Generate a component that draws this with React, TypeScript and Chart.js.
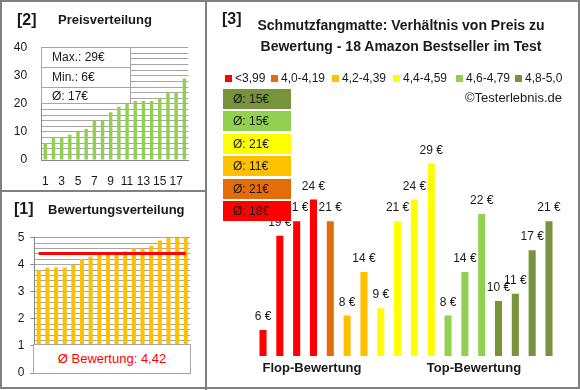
import React, { useEffect, useRef } from 'react';
import { Chart, registerables } from 'chart.js';

Chart.register(...registerables);

const FONT = '"Liberation Sans", Arial, sans-serif';
Chart.defaults.font.family = FONT;

// ---------- Panel [3]: price per product, grouped by rating class ----------
const productPrices = [6, 19, 21, 24, 21, 8, 14, 9, 21, 24, 29, 8, 14, 22, 10, 11, 17, 21];
const productRatingClass = [0, 0, 0, 0, 1, 2, 2, 3, 3, 3, 3, 4, 4, 4, 5, 5, 5, 5];
const ratingClassLabels = ['<3,99', '4,0-4,19', '4,2-4,39', '4,4-4,59', '4,6-4,79', '4,8-5,0'];
const ratingClassColors = ['#FF0000', '#E46C0A', '#FFC000', '#FFFF00', '#92D050', '#77933C'];
const ratingClassAverages = [18, 21, 11, 21, 15, 15];
const chartTitleLines = ['Schmutzfangmatte: Verhältnis von Preis zu', 'Bewertung - 18 Amazon Bestseller im Test'];
const axisGroupLabels = ['Flop-Bewertung', 'Top-Bewertung'];
const copyrightText = '©Testerlebnis.de';

// ---------- Panel [2]: price distribution ----------
const priceRankLabels = ['1', '2', '3', '4', '5', '6', '7', '8', '9', '10', '11', '12', '13', '14', '15', '16', '17', '18'];
const pricesSorted = [6, 8, 8, 9, 10, 11, 14, 14, 17, 19, 20.5, 21, 21, 21, 22, 24, 24, 29];
const priceStats = ['Max.: 29€', 'Min.: 6€', 'Ø: 17€'];

// ---------- Panel [1]: rating distribution ----------
const ratingsSorted = [3.8, 3.9, 3.9, 3.9, 4.0, 4.2, 4.3, 4.4, 4.4, 4.4, 4.5, 4.6, 4.6, 4.7, 4.9, 5.0, 5.0, 5.0];
const averageRating = 4.42;
const averageRatingText = 'Ø Bewertung: 4,42';

const W = 580;
const H = 390;
const GRID = '#A6A6A6';
const AXIS = '#868686';
const TEXT = '#1A1A1A';

const valueLabelPlugin = {
  id: 'valueLabels',
  afterDatasetsDraw(chart: any) {
    const ctx = chart.ctx;
    const meta = chart.getDatasetMeta(0);
    const data = chart.data.datasets[0].data;
    ctx.save();
    ctx.font = `12px ${FONT}`;
    ctx.fillStyle = TEXT;
    ctx.textAlign = 'center';
    ctx.textBaseline = 'middle';
    meta.data.forEach((el: any, i: number) => {
      ctx.fillText(`${data[i]} €`, el.x, el.y - 13);
    });
    ctx.restore();
  },
};

function isMultiple(v: number, m: number) {
  const q = v / m;
  return Math.abs(q - Math.round(q)) < 1e-6;
}

export default function App() {
  const c1 = useRef<HTMLCanvasElement>(null);
  const c2 = useRef<HTMLCanvasElement>(null);
  const c3 = useRef<HTMLCanvasElement>(null);

  useEffect(() => {
    const charts: Chart[] = [];

    // Panel [2]
    charts.push(
      new Chart(c2.current!, {
        type: 'bar',
        data: {
          labels: priceRankLabels,
          datasets: [
            {
              data: pricesSorted,
              backgroundColor: '#92D050',
              barPercentage: 0.42,
              categoryPercentage: 1,
            },
          ],
        },
        options: {
          responsive: false,
          animation: false,
          events: [],
          layout: { padding: { left: 0, top: 47.7, right: W - 188.4, bottom: 0 } },
          plugins: { legend: { display: false }, tooltip: { enabled: false } },
          scales: {
            x: {
              grid: { display: false, drawTicks: false },
              border: { display: true, color: AXIS, width: 1 },
              ticks: {
                autoSkip: false,
                maxRotation: 0,
                padding: 14,
                color: TEXT,
                font: { size: 12 },
                callback: (_v: any, i: number) => (i % 2 === 0 ? priceRankLabels[i] : ''),
              },
              afterFit: (s: any) => {
                s.height = H - 160;
              },
            },
            y: {
              min: 0,
              max: 40,
              grid: { color: GRID, drawTicks: false },
              border: { display: true, color: AXIS, width: 1 },
              ticks: {
                stepSize: 2,
                autoSkip: false,
                padding: 14,
                color: TEXT,
                font: { size: 12 },
                callback: (v: any) => (isMultiple(Number(v), 10) ? String(v) : ''),
              },
              afterFit: (s: any) => {
                s.width = 41.2;
              },
            },
          },
        },
      })
    );

    // Panel [1]
    charts.push(
      new Chart(c1.current!, {
        type: 'bar',
        data: {
          labels: priceRankLabels,
          datasets: [
            {
              type: 'line',
              data: priceRankLabels.map(() => averageRating),
              borderColor: '#FF0000',
              borderWidth: 3,
              pointRadius: 0,
              order: 0,
            } as any,
            {
              data: ratingsSorted,
              backgroundColor: '#FFC000',
              barPercentage: 0.47,
              categoryPercentage: 1,
              order: 1,
            },
          ],
        },
        options: {
          responsive: false,
          animation: false,
          events: [],
          layout: { padding: { left: 0, top: 237.7, right: W - 190.1, bottom: 0 } },
          plugins: { legend: { display: false }, tooltip: { enabled: false } },
          scales: {
            x: {
              grid: { display: false, drawTicks: false },
              border: { display: true, color: AXIS, width: 1 },
              ticks: { display: false },
              afterFit: (s: any) => {
                s.height = H - 373;
              },
            },
            y: {
              min: 0,
              max: 5,
              grid: {
                color: GRID,
                drawTicks: true,
                tickLength: 4,
                tickColor: (ctx: any) => (ctx.tick && isMultiple(ctx.tick.value, 1) ? AXIS : 'rgba(0,0,0,0)'),
              },
              border: { display: true, color: AXIS, width: 1 },
              ticks: {
                stepSize: 0.2,
                autoSkip: false,
                padding: 6,
                color: TEXT,
                font: { size: 12 },
                callback: (v: any) => (isMultiple(Number(v), 1) ? String(Math.round(Number(v))) : ''),
              },
              afterFit: (s: any) => {
                s.width = 34.4;
              },
            },
          },
        },
      })
    );

    // Panel [3]
    charts.push(
      new Chart(c3.current!, {
        type: 'bar',
        data: {
          labels: productPrices.map((_, i) => String(i + 1)),
          datasets: [
            {
              data: productPrices,
              backgroundColor: productRatingClass.map((c) => ratingClassColors[c]),
              barPercentage: 0.42,
              categoryPercentage: 1,
            },
          ],
        },
        options: {
          responsive: false,
          animation: false,
          events: [],
          layout: { padding: { left: 254.6, top: 134.2, right: W - 557.4, bottom: H - 356 } },
          plugins: { legend: { display: false }, tooltip: { enabled: false } },
          scales: {
            x: { display: false },
            y: { display: false, min: 2.4, max: 33 },
          },
        },
        plugins: [valueLabelPlugin],
      })
    );

    return () => charts.forEach((c) => c.destroy());
  }, []);

  const abs = (s: React.CSSProperties): React.CSSProperties => ({ position: 'absolute', whiteSpace: 'nowrap', ...s });
  const canvasStyle: React.CSSProperties = { position: 'absolute', left: 0, top: 0, width: W, height: H };
  const legendX = [225, 271, 332, 393, 456, 515];
  const boxOrder = [5, 4, 3, 2, 1, 0];

  return (
    <div
      style={{
        position: 'fixed',
        left: 0,
        top: 0,
        width: W,
        height: H,
        background: '#fff',
        overflow: 'hidden',
        fontFamily: FONT,
        color: TEXT,
      }}
    >
      <canvas ref={c2} width={W} height={H} style={canvasStyle} />
      <canvas ref={c1} width={W} height={H} style={canvasStyle} />
      <canvas ref={c3} width={W} height={H} style={canvasStyle} />

      {/* frames */}
      <div style={abs({ left: 0, top: 0, width: W, height: H - 1, boxSizing: 'border-box', border: '2px solid #808080' })} />
      <div style={abs({ left: 205, top: 0, width: 2, height: H, background: '#808080' })} />
      <div style={abs({ left: 0, top: 190, width: 206, height: 2, background: '#808080' })} />

      {/* Panel [2] texts */}
      <div style={abs({ left: 17, top: 10, font: `bold 16px ${FONT}`, lineHeight: '20px' })}>[2]</div>
      <div style={abs({ left: 58, top: 12, font: `bold 13px ${FONT}`, lineHeight: '16px' })}>Preisverteilung</div>
      <div
        style={abs({
          left: 41,
          top: 47,
          width: 90,
          height: 57,
          boxSizing: 'border-box',
          border: `1px solid ${GRID}`,
          background: '#fff',
        })}
      >
        {priceStats.map((t, i) => (
          <div
            key={i}
            style={{
              height: i === 2 ? 17 : 19,
              lineHeight: i === 2 ? '17px' : '19px',
              paddingLeft: 10,
              fontSize: 12,
              borderBottom: i < 2 ? `1px solid ${GRID}` : 'none',
            }}
          >
            {t}
          </div>
        ))}
      </div>

      {/* Panel [1] texts */}
      <div style={abs({ left: 14, top: 199, font: `bold 16px ${FONT}`, lineHeight: '20px' })}>[1]</div>
      <div style={abs({ left: 48, top: 202, font: `bold 13px ${FONT}`, lineHeight: '16px' })}>Bewertungsverteilung</div>
      <div
        style={abs({
          left: 33,
          top: 344,
          width: 158,
          height: 30,
          boxSizing: 'border-box',
          border: `1px solid ${GRID}`,
          background: '#fff',
          color: '#FF0000',
          fontSize: 13,
          lineHeight: '28px',
          textAlign: 'center',
        })}
      >
        {averageRatingText}
      </div>

      {/* Panel [3] texts */}
      <div style={abs({ left: 222, top: 9, font: `bold 16px ${FONT}`, lineHeight: '20px' })}>[3]</div>
      {chartTitleLines.map((t, i) => (
        <div
          key={i}
          style={abs({
            left: 401,
            top: (i === 0 ? 25 : 46) - 9,
            transform: 'translateX(-50%)',
            font: `bold 14px ${FONT}`,
            lineHeight: '18px',
          })}
        >
          {t}
        </div>
      ))}
      {ratingClassLabels.map((t, i) => (
        <div key={i} style={abs({ left: legendX[i], top: 70, height: 16, display: 'flex', alignItems: 'center', fontSize: 12 })}>
          <span style={{ display: 'inline-block', width: 7, height: 7, background: ratingClassColors[i], marginRight: 3 }} />
          <span style={{ lineHeight: '16px' }}>{t}</span>
        </div>
      ))}
      <div style={abs({ left: 562, top: 90, transform: 'translateX(-100%)', fontSize: 13, lineHeight: '16px' })}>{copyrightText}</div>

      {boxOrder.map((c, i) => (
        <div
          key={c}
          style={abs({
            left: 223,
            top: 89 + i * 22.4,
            width: 68,
            height: 20,
            background: ratingClassColors[c],
            fontSize: 12,
            lineHeight: '20px',
            paddingLeft: 10,
            boxSizing: 'border-box',
          })}
        >
          {`Ø: ${ratingClassAverages[c]}€`}
        </div>
      ))}

      <div style={abs({ left: 312, top: 360, transform: 'translateX(-50%)', font: `bold 13px ${FONT}`, lineHeight: '16px' })}>
        {axisGroupLabels[0]}
      </div>
      <div style={abs({ left: 474, top: 360, transform: 'translateX(-50%)', font: `bold 13px ${FONT}`, lineHeight: '16px' })}>
        {axisGroupLabels[1]}
      </div>
    </div>
  );
}
